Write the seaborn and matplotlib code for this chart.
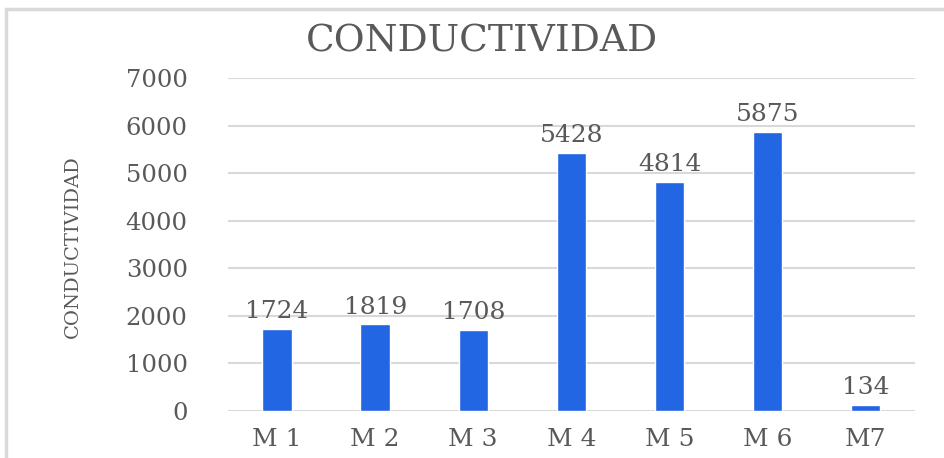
import pandas as pd
import matplotlib
matplotlib.use("Agg")
import matplotlib.pyplot as plt
import seaborn as sns
from matplotlib.lines import Line2D

# datos
muestras = ["M 1", "M 2", "M 3", "M 4", "M 5", "M 6", "M7"]
conductividad = [1724, 1819, 1708, 5428, 4814, 5875, 134]
y_ticks = [0, 1000, 2000, 3000, 4000, 5000, 6000, 7000]

df = pd.DataFrame({"muestra": muestras, "conductividad": conductividad})

sns.set_style("white")
plt.rcParams["font.family"] = ["DejaVu Serif"]

gris = "#595959"
fig = plt.figure(figsize=(9.44, 4.58), dpi=100)
ax = fig.add_axes([0.2415, 0.1026, 0.7275, 0.7271])

sns.barplot(data=df, x="muestra", y="conductividad", color="#2266e3",
            saturation=1, width=0.3, ax=ax, zorder=3)

ax.set_ylim(0, 7000)
ax.set_yticks(y_ticks)
ax.set_yticklabels([str(t) for t in y_ticks], fontsize=17.5, color=gris)
ax.set_xticks(range(len(muestras)))
ax.set_xticklabels(muestras, fontsize=18, color=gris)
ax.tick_params(axis="y", length=0, pad=29)
ax.tick_params(axis="x", length=0, pad=12)
ax.yaxis.grid(True, color="#d9d9d9", linewidth=1.5, zorder=0)
ax.set_axisbelow(True)
for s in ax.spines.values():
    s.set_visible(False)

ax.bar_label(ax.containers[0], fontsize=18, color=gris, padding=4)

ax.set_xlabel("")
ax.set_ylabel("CONDUCTIVIDAD", fontsize=14, color=gris)
ax.yaxis.set_label_coords(-0.2125, 0.495)

fig.text(0.51, 0.91, "CONDUCTIVIDAD", fontsize=27, color=gris,
         ha="center", va="center")

# marco gris
fig.add_artist(Line2D([0.0064, 0.0064], [0, 0.98], transform=fig.transFigure,
                      color="#d9d9d9", linewidth=2.5))
fig.add_artist(Line2D([0.0064, 1], [0.98, 0.98], transform=fig.transFigure,
                      color="#d9d9d9", linewidth=2.5))

fig.savefig("out.png", dpi=100)
